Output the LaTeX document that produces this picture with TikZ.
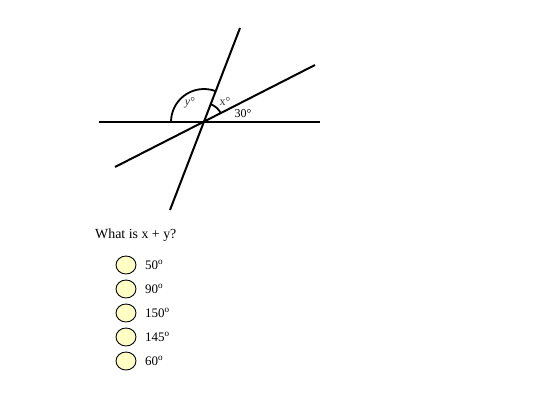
\documentclass[tikz,border=0pt]{standalone}
\usepackage{fontspec}
\setmainfont{Liberation Serif}
\usetikzlibrary{shapes.geometric}
\definecolor{choicefill}{HTML}{FFFFC6}
\begin{document}
\begin{tikzpicture}[x=1pt,y=-1pt,
  geomline/.style={line width=2pt},
  anglearc/.style={line width=1.8pt},
  choice/.style={draw=black,line width=0.9pt,fill=choicefill,ellipse,minimum width=20pt,minimum height=18pt,inner sep=0pt},
  choicelabel/.style={anchor=west,font=\fontsize{13}{15}\selectfont,inner sep=0pt},
  anglelabel/.style={font=\fontsize{12}{14}\selectfont,inner sep=0pt,text=black!80}]
\useasboundingbox (0,0) rectangle (550,400);
\coordinate (O) at (204,122);
\coordinate (H1) at (99,122);
\coordinate (H2) at (320,122);
\coordinate (S1) at (240,28);
\coordinate (S2) at (170,210);
\coordinate (L1) at (315,65);
\coordinate (L2) at (115,167);
\draw[geomline] (H1) -- (H2);
\draw[geomline] (S2) -- (S1);
\draw[geomline] (L2) -- (L1);
% y arc: visual 69 deg to 180 deg, radius 33 (y axis flipped)
\draw[anglearc] (O) ++(-69:33) arc[start angle=-69, end angle=-180, radius=33];
% x arc: visual 27 to 69 deg, radius 19
\draw[anglearc] (O) ++(-27:19) arc[start angle=-27, end angle=-69, radius=19];
\node[anglelabel] (ylab) at (190,103) {\textit{y}°};
\node[anglelabel] (xlab) at (225,101.5) {x°};
\node[font=\fontsize{12}{14}\selectfont,inner sep=0pt] (thirty) at (243,114) {30°};
\node[anchor=west,font=\fontsize{13.9}{16}\selectfont,inner sep=0pt] (q) at (95,235) {What is x + y?};
\foreach \i/\t in {0/50,1/90,2/150,3/145,4/60}{
  \node[choice] (c\i) at (126,265+24*\i) {};
  \node[choicelabel] (t\i) at (145,265+24*\i) {\t\textsuperscript{o}};
}
\end{tikzpicture}
\end{document}
